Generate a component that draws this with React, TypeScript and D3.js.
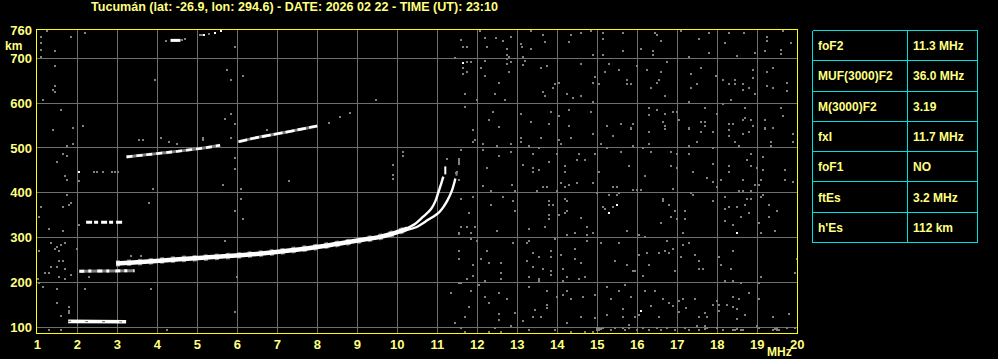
import React from "react";
import * as d3 from "d3";

const TITLE = "Tucumán (lat: -26.9, lon: 294.6) - DATE: 2026 02 22 - TIME (UT): 23:10";
const FREQ_TICKS = [1, 2, 3, 4, 5, 6, 7, 8, 9, 10, 11, 12, 13, 14, 15, 16, 17, 18, 19, 20];
const HEIGHT_GRID = [100, 200, 300, 400, 500, 600, 700];
const HEIGHT_LABELS = [100, 200, 300, 400, 500, 600, 700, 760];
const PARAM_NAMES = ["foF2", "MUF(3000)F2", "M(3000)F2", "fxI", "foF1", "ftEs", "h'Es"];
const PARAM_VALUES = ["11.3 MHz", "36.0 MHz", "3.19", "11.7 MHz", "NO", "3.2 MHz", "112 km"];

// Traces [frequency MHz, virtual height km]
const F_COMMON: [number, number][] = [[2.97, 242], [3.5, 245], [4.3, 250], [5.13, 255], [6.3, 262], [7.3, 271], [8.3, 283], [9.13, 295], [9.6, 302], [10.0, 312], [10.25, 320]];
const F_O_BRANCH: [number, number][] = [[10.2, 319], [10.45, 331], [10.64, 346], [10.84, 363], [10.96, 383], [11.03, 402], [11.09, 418], [11.15, 436]];
const F_O_TOP: [number, number][] = [[11.2, 441], [11.2, 461]];
const F_X_BRANCH: [number, number][] = [[10.2, 316], [10.47, 323], [10.76, 339], [11.05, 357], [11.18, 372], [11.26, 384], [11.37, 406], [11.43, 424], [11.45, 432]];
const F_X_TOP: [number, number][] = [[11.48, 438], [11.49, 448]];
const ES_1: [number, number][] = [[1.77, 113], [3.22, 112]];
const ES_2: [number, number][] = [[2.05, 225], [3.43, 226]];
const ES_3: [number, number][] = [[2.22, 334], [3.12, 334]];
const ES_4: [number, number][] = [[2.03, 447], [2.42, 447], [2.5, 447], [2.65, 447], [2.87, 447], [2.95, 447], [3.02, 447]];
const F2_HOP2_A: [number, number][] = [[3.23, 480], [3.65, 484], [4.15, 489], [4.65, 494], [5.32, 502], [5.57, 506]];
const F2_HOP2_B: [number, number][] = [[6.03, 514], [6.48, 523], [7.03, 532], [7.6, 542], [8.0, 549]];
const F2_HOP2_DOTS: [number, number][] = [[8.3, 556], [8.57, 569], [8.82, 578], [9.47, 607], [3.54, 517], [3.64, 517], [4.09, 522], [4.29, 513], [4.49, 509], [5.14, 522], [5.14, 517], [3.34, 259], [3.59, 259]];
const F_HOP3: [number, number][] = [[4.33, 740], [4.58, 740]];
const F_HOP3_DOTS: [number, number][] = [[4.22, 738], [4.62, 741], [4.7, 743], [5.07, 751], [5.12, 752], [5.29, 754]];
const WHITE_DOTS: [number, number][] = [[5.17, 752], [5.45, 757], [5.6, 761], [11.64, 689], [15.29, 355], [15.49, 373], [18.49, 311], [16.09, 136], [2.03, 447]];

const NOISE: [number, number][] = [
  // upper right
  [12.07, 760], [12.2, 746], [12.47, 746], [12.64, 739], [12.84, 747], [13.34, 761], [13.64, 752], [13.69, 736], [14.34, 752], [14.28, 737], [14.59, 757], [14.84, 761], [15.13, 757], [15.13, 743], [15.64, 757], [16.44, 757], [16.49, 751], [16.59, 739], [17.09, 761], [17.54, 743], [17.79, 757], [18.29, 757], [18.19, 734], [18.67, 757], [19.24, 748], [19.24, 739], [19.64, 761], [19.84, 734],
  [11.64, 725], [11.74, 725], [12.24, 725], [12.74, 721], [13.09, 731], [13.12, 725], [13.34, 721], [12.74, 707], [12.79, 703], [13.14, 703], [14.89, 707], [15.14, 707], [15.64, 716], [16.09, 721], [16.39, 716], [16.39, 707], [17.29, 702], [17.79, 712], [18.49, 706], [18.94, 712], [19.19, 716], [19.59, 719], [19.59, 710],
  [11.74, 691], [11.84, 691], [11.64, 679], [11.74, 670], [11.64, 664], [12.09, 678], [12.19, 693], [12.74, 699], [12.74, 687], [12.84, 691], [13.19, 693], [13.14, 685], [12.79, 669], [12.19, 660], [13.59, 678], [13.74, 682], [14.59, 687], [15.29, 687], [15.54, 673], [15.19, 669], [14.94, 658], [14.89, 646], [16.24, 673], [15.99, 682], [16.59, 669], [16.74, 691], [17.59, 678], [17.34, 664], [17.97, 661], [18.89, 673], [19.24, 670], [19.39, 678], [18.14, 651], [18.29, 642], [18.44, 651], [18.44, 642], [18.64, 642], [18.89, 655], [18.79, 633], [18.64, 629], [19.74, 646], [19.24, 638], [19.39, 633], [19.74, 626], [18.94, 620],
  [12.54, 646], [11.69, 620], [12.44, 620], [12.69, 606], [11.99, 606], [13.64, 624], [13.69, 615], [13.89, 633], [13.94, 642], [14.04, 646], [14.24, 620], [14.39, 611], [14.59, 615], [14.89, 602], [15.04, 642], [15.74, 651], [15.74, 642], [15.84, 642], [16.34, 633], [16.49, 646], [16.54, 651], [16.69, 615], [17.29, 602], [17.34, 633], [17.49, 642], [18.34, 606], [18.14, 597],
  [11.69, 591], [12.39, 580], [12.29, 562], [12.54, 547], [13.09, 575], [13.34, 557], [13.84, 580], [14.04, 571], [13.79, 553], [14.29, 584], [14.84, 580], [14.29, 548], [15.24, 548], [15.59, 553], [15.84, 544], [15.89, 553], [16.29, 588], [16.29, 574], [16.49, 584], [16.69, 575], [16.64, 557], [16.69, 548], [16.89, 580], [16.99, 580], [17.04, 562], [17.29, 544], [17.69, 588], [17.59, 557], [17.69, 557], [17.69, 548], [17.99, 575], [18.29, 553], [18.39, 553], [18.69, 588], [18.69, 566], [18.64, 562], [18.84, 562], [18.89, 548], [19.19, 562], [19.39, 544], [19.19, 544], [19.59, 588], [19.64, 571],
  // middle right
  [11.89, 540], [11.89, 513], [11.94, 517], [12.14, 508], [12.49, 504], [12.84, 508], [13.09, 522], [13.09, 513], [13.29, 504], [13.59, 522], [14.04, 517], [14.09, 508], [14.34, 522], [14.89, 531], [15.09, 508], [15.39, 526], [15.84, 542], [15.89, 504], [16.29, 535], [16.29, 508], [16.69, 542], [17.29, 542], [17.59, 535], [17.29, 504], [17.49, 513], [17.89, 535], [18.29, 540], [18.29, 526], [18.44, 513], [18.64, 531], [18.79, 535], [18.54, 504], [19.19, 542], [19.34, 513], [19.34, 504], [19.89, 513], [19.89, 531],
  [11.59, 495], [12.14, 495], [12.54, 482], [12.84, 490], [11.54, 476], [11.54, 468], [13.39, 486], [13.54, 499], [13.99, 486], [14.54, 486], [14.49, 473], [14.69, 473], [14.94, 486], [15.24, 499], [15.59, 490], [16.14, 499], [16.34, 490], [16.84, 490], [16.99, 486], [17.29, 486], [17.89, 499], [18.84, 486], [18.74, 473], [19.14, 480],
  [11.49, 446], [11.54, 428], [12.24, 455], [13.14, 462], [13.39, 455], [13.39, 446], [13.54, 450], [13.79, 468], [14.19, 459], [14.19, 446], [15.04, 446], [15.79, 459], [16.19, 437], [16.84, 459], [16.99, 455], [17.39, 446], [17.74, 432], [17.89, 464], [17.89, 423], [18.09, 428], [18.29, 459], [18.29, 446], [18.64, 428], [18.84, 459], [18.99, 455], [19.14, 450], [19.09, 428], [19.69, 450], [19.69, 428], [19.89, 423],
  [12.14, 416], [12.34, 404], [12.87, 418], [12.94, 403], [13.49, 404], [13.64, 413], [13.74, 413], [13.99, 403], [14.09, 422], [14.19, 413], [14.29, 418], [14.49, 422], [14.89, 422], [14.99, 400], [15.39, 413], [15.49, 413], [15.54, 400], [15.89, 406], [15.99, 406], [16.09, 406], [16.89, 409], [17.34, 400], [17.39, 395], [17.99, 413], [18.54, 404], [18.64, 404], [18.84, 404], [18.94, 418], [19.04, 418],
  [11.59, 386], [11.89, 391], [12.34, 373], [12.64, 391], [12.89, 382], [12.94, 359], [13.79, 382], [13.79, 373], [13.89, 373], [14.19, 386], [14.24, 382], [14.24, 359], [14.19, 355], [13.79, 351], [13.79, 342], [14.04, 351], [14.59, 343], [15.14, 368], [15.19, 364], [15.39, 368], [15.29, 395], [15.49, 395], [16.64, 386], [16.64, 382], [16.79, 373], [16.94, 359], [16.84, 346], [16.99, 342], [16.59, 333], [17.19, 359], [17.19, 342], [17.89, 382], [18.19, 391], [18.19, 364], [18.29, 368], [18.49, 368], [18.69, 373], [18.74, 386], [18.84, 386], [18.79, 355], [19.09, 391], [19.14, 395], [19.29, 373], [19.49, 359], [19.29, 346], [19.04, 333], [18.19, 337], [18.39, 328], [18.59, 346],
  [11.79, 355], [11.59, 324], [11.74, 324], [11.94, 324], [13.29, 319], [13.69, 324], [14.74, 324],
  // lower right
  [11.54, 311], [11.84, 311], [12.49, 315], [13.29, 320], [14.24, 306], [14.44, 311], [14.74, 306], [14.89, 311], [15.74, 314], [16.04, 306], [16.19, 302], [17.14, 311], [19.09, 311], [19.44, 314],
  [11.84, 297], [11.99, 293], [12.89, 288], [13.24, 288], [13.29, 293], [13.94, 297], [14.74, 293], [15.09, 288], [15.54, 288], [16.74, 293], [17.14, 284], [17.29, 288], [11.54, 270], [12.24, 270], [11.54, 253], [12.09, 253], [11.89, 239], [12.29, 244], [12.59, 244], [12.59, 221], [12.59, 208], [11.89, 214], [11.74, 208], [13.24, 248], [13.39, 266], [13.54, 257], [13.39, 235], [13.64, 230], [13.84, 270], [13.84, 257], [13.84, 226], [13.84, 217], [13.54, 208], [13.29, 212], [14.09, 261], [14.44, 275], [14.44, 253], [14.59, 244], [14.14, 229], [14.24, 212], [14.54, 208], [14.69, 212], [15.44, 248], [15.74, 239], [15.89, 226], [15.94, 226], [16.29, 239], [16.14, 214], [16.04, 261], [16.24, 266], [16.54, 266], [16.69, 270], [16.79, 266], [16.89, 275], [17.09, 257], [16.94, 226], [17.44, 261], [17.54, 248], [17.54, 230], [17.64, 230], [18.04, 257], [18.09, 239], [18.34, 230], [18.39, 270], [19.09, 212], [19.94, 221], [19.99, 253],
  [11.54, 199], [11.59, 199], [12.04, 195], [12.19, 203], [11.84, 181], [12.19, 168], [12.29, 154], [12.54, 177], [12.74, 163], [11.79, 145], [11.69, 123], [12.54, 129], [12.54, 117], [12.94, 132], [13.14, 114], [13.29, 190], [13.44, 138], [13.39, 123], [13.59, 123], [13.54, 203], [13.74, 181], [13.74, 150], [13.74, 142], [14.14, 203], [14.24, 181], [14.14, 172], [13.99, 168], [14.34, 163], [14.64, 168], [14.94, 172], [14.94, 120], [14.59, 123], [14.24, 110], [15.24, 190], [15.54, 181], [15.69, 195], [15.34, 163], [15.84, 168], [15.24, 128], [15.64, 141], [15.64, 123], [15.94, 123], [15.79, 105], [16.04, 128], [16.19, 181], [16.44, 181], [16.34, 147], [16.54, 123], [16.64, 163], [16.79, 154], [16.89, 147], [17.04, 159], [17.04, 135], [17.14, 163], [17.21, 142], [17.44, 163], [17.54, 123], [17.74, 123], [17.69, 132], [17.89, 150], [17.99, 159], [18.04, 150], [18.04, 136], [18.19, 202], [18.39, 202], [18.24, 150], [18.39, 168], [18.39, 145], [18.49, 141], [18.49, 119], [18.54, 163], [18.59, 199], [18.69, 128], [18.79, 177], [19.04, 199], [19.04, 163], [19.39, 123], [19.79, 129],
  [11.59, 98], [11.69, 90], [12.29, 90], [12.44, 98], [12.59, 90], [12.84, 102], [13.29, 93], [13.94, 93], [14.34, 90], [14.69, 90], [14.89, 90], [14.99, 98], [15.04, 93], [15.14, 98], [15.34, 93], [15.44, 98], [15.64, 98], [15.69, 93], [15.79, 98], [15.99, 93], [16.14, 98], [16.29, 93], [16.49, 98], [16.59, 93], [16.74, 98], [16.94, 93], [17.19, 98], [17.29, 93], [17.49, 102], [17.54, 93], [17.69, 102], [17.74, 98], [17.99, 98], [18.14, 93], [18.59, 93], [18.64, 93], [18.99, 102], [19.04, 98], [19.39, 93], [19.49, 93], [19.54, 93], [19.74, 98], [19.94, 98],
  [18.39, 93], [18.44, 93], [18.49, 96], [17.69, 95], [15.04, 98], [19.44, 96], [19.49, 99], [15.09, 95], [14.99, 93],
  // left
  [1.49, 468], [1.69, 437], [1.74, 428], [1.74, 395], [1.84, 378], [1.79, 373], [1.09, 369], [1.64, 369], [1.04, 346], [1.29, 319], [1.64, 315], [2.04, 427], [2.03, 328], [3.89, 409], [3.79, 378], [5.94, 453], [5.94, 360], [6.09, 409], [6.09, 387], [6.14, 342], [5.64, 418], [7.29, 427], [9.89, 461], [9.89, 440], [9.89, 431], [5.69, 293],
  [1.34, 288], [1.49, 279], [1.69, 288], [1.44, 275], [1.54, 270], [1.59, 284], [1.04, 270], [1.99, 275], [1.54, 248], [1.64, 248], [1.34, 235], [1.49, 235], [1.69, 230], [1.19, 221], [1.29, 221], [1.54, 212], [1.84, 217], [1.69, 208], [2.29, 212], [1.02, 208], [1.04, 199], [1.14, 190], [1.49, 186], [2.19, 186], [3.84, 186], [5.99, 212], [1.49, 153], [1.79, 145], [1.79, 137], [1.79, 131], [1.59, 126], [11.34, 177], [11.44, 110], [5.94, 134], [1.29, 93], [1.59, 93], [4.24, 93],
  [1.59, 584], [1.39, 540], [1.89, 544], [2.14, 549], [1.74, 504], [1.89, 508], [1.64, 486], [1.74, 482],
  [1.09, 748], [1.09, 735], [1.09, 718], [1.09, 703], [1.23, 761], [1.44, 717], [1.84, 748], [2.19, 757], [1.44, 683], [1.44, 638], [1.39, 629], [1.44, 625], [1.14, 607], [3.94, 651], [5.74, 674], [5.84, 651], [6.14, 660], [5.94, 726], [5.69, 564], [5.84, 575], [5.94, 553], [5.84, 522], [6.74, 540], [5.94, 477],
  [10.13, 491], [10.13, 482], [11.23, 476], [11.53, 471], [11.53, 465], [11.48, 443], [11.53, 428], [11.53, 309], [11.53, 253], [11.6, 740], [11.45, 700]
];

const W = 998;
const H = 359;
const x = d3.scaleLinear().domain([1, 20]).range([37.3, 797.3]);
const y = d3.scaleLinear().domain([100, 700]).range([327.2, 58.3]);
const FRAME_H = [86, 765];

const YELLOW = "#ffff00";
const TEXT_Y = "#ffff80";
const GRID = "#6e6e6e";
const NOISE_C = "#808080";
const CYAN = "#00e0e0";
const FONT = "'Liberation Sans', Arial, sans-serif";

const crisp = (v: number) => Math.floor(v) + 0.5;

export default function App() {
  const line = d3.line<[number, number]>().x((d) => x(d[0])).y((d) => y(d[1])).curve(d3.curveCatmullRom);
  const fl = crisp(x(1) - 1);
  const fr = crisp(x(20));
  const ft = crisp(y(FRAME_H[1]));
  const fb = crisp(y(FRAME_H[0]));

  const tableLeft = 812.5;
  const tableMid = 907.5;
  const tableRight = 977.5;
  const tableTop = 30.5;
  const rowH = 30.28;

  const dot = (d: [number, number], i: number, color: string) => (
    <rect key={i} x={Math.round(x(d[0])) - 1} y={Math.round(y(d[1])) - 1} width={2} height={2} fill={color} />
  );

  return (
    <div style={{ position: "fixed", left: 0, top: 0, width: W, height: H, background: "#000" }}>
      <svg width={W} height={H} style={{ display: "block", background: "#000" }} fontFamily={FONT}>
        <rect x={0} y={0} width={W} height={H} fill="#000" />
        <text x={91} y={11} fill={TEXT_Y} fontSize={12} fontWeight="bold" textLength={407} lengthAdjust="spacingAndGlyphs">
          {TITLE}
        </text>

        <g shapeRendering="crispEdges" stroke={GRID} strokeWidth={1}>
          {FREQ_TICKS.filter((f) => f > 1 && f < 20).map((f) => (
            <line key={"v" + f} x1={crisp(x(f))} x2={crisp(x(f))} y1={ft} y2={fb} />
          ))}
          {HEIGHT_GRID.map((h) => (
            <line key={"h" + h} x1={fl} x2={fr} y1={crisp(y(h))} y2={crisp(y(h))} />
          ))}
        </g>

        <g shapeRendering="crispEdges">
          {NOISE.map((d, i) => dot(d, i, NOISE_C))}
          {F2_HOP2_DOTS.map((d, i) => dot(d, i, NOISE_C))}
          {F_HOP3_DOTS.map((d, i) => dot(d, i, NOISE_C))}
          {ES_4.map((d, i) => dot(d, i, NOISE_C))}
        </g>

        <g fill="none" strokeLinecap="butt">
          <path d={line(F_COMMON) || ""} stroke={NOISE_C} strokeWidth={6.5} strokeDasharray="4 7" />
          <path d={line(F_COMMON) || ""} stroke="#fff" strokeWidth={4.5} />
          <path d={line(F_O_BRANCH) || ""} stroke="#fff" strokeWidth={2.4} />
          <path d={line(F_X_BRANCH) || ""} stroke="#fff" strokeWidth={2.4} />
          <path d={line(F_O_TOP) || ""} stroke="#fff" strokeWidth={2} strokeDasharray="8 3" />
          <path d={line(F_X_TOP) || ""} stroke={NOISE_C} strokeWidth={2} />
          <path d={line(ES_1) || ""} stroke="#fff" strokeWidth={3.6} />
          <path d={line(ES_1) || ""} stroke={NOISE_C} strokeWidth={1.2} strokeDasharray="3 14" />
          <path d={line(ES_2) || ""} stroke={NOISE_C} strokeWidth={3} />
          <path d={line(ES_2) || ""} stroke="#fff" strokeWidth={3} strokeDasharray="5 4 3 6" />
          <path d={line(ES_3) || ""} stroke="#fff" strokeWidth={3} strokeDasharray="6 2 4 3" />
          <path d={line(F2_HOP2_A) || ""} stroke={NOISE_C} strokeWidth={3} />
          <path d={line(F2_HOP2_A) || ""} stroke="#fff" strokeWidth={2.6} strokeDasharray="6 4" />
          <path d={line(F2_HOP2_B) || ""} stroke={NOISE_C} strokeWidth={3} />
          <path d={line(F2_HOP2_B) || ""} stroke="#fff" strokeWidth={2.6} strokeDasharray="9 3" />
          <path d={line(F_HOP3) || ""} stroke="#fff" strokeWidth={3} />
        </g>
        <g shapeRendering="crispEdges">{WHITE_DOTS.map((d, i) => dot(d, i, "#fff"))}</g>

        <rect x={fl} y={ft} width={fr - fl} height={fb - ft} fill="none" stroke={YELLOW} strokeWidth={1} shapeRendering="crispEdges" />

        <g fill={TEXT_Y} fontSize={13} fontWeight="bold">
          {HEIGHT_LABELS.map((h) => (
            <text key={"yl" + h} x={32} y={y(h) + (h === 760 ? 3.4 : 4.6)} textAnchor="end">
              {h}
            </text>
          ))}
          <text x={5} y={49.5} fontSize={12}>km</text>
          {FREQ_TICKS.map((f) => (
            <text key={"xl" + f} x={x(f)} y={348.5} textAnchor="middle">
              {f}
            </text>
          ))}
          <text x={767} y={355.5} fontSize={12}>MHz</text>
        </g>

        <g shapeRendering="crispEdges" stroke={CYAN} strokeWidth={1}>
          {d3.range(PARAM_NAMES.length + 1).map((i) => (
            <line key={"tr" + i} x1={tableLeft} x2={tableRight} y1={crisp(tableTop + i * rowH)} y2={crisp(tableTop + i * rowH)} />
          ))}
          <line x1={tableLeft} x2={tableLeft} y1={tableTop} y2={crisp(tableTop + PARAM_NAMES.length * rowH)} />
          <line x1={tableMid} x2={tableMid} y1={tableTop} y2={crisp(tableTop + PARAM_NAMES.length * rowH)} />
          <line x1={tableRight} x2={tableRight} y1={tableTop} y2={crisp(tableTop + PARAM_NAMES.length * rowH)} />
        </g>
        <g fill={TEXT_Y} fontSize={12} fontWeight="bold">
          {PARAM_NAMES.map((n, i) => (
            <text key={"pn" + i} x={818} y={tableTop + (i + 0.5) * rowH + 4.5}>
              {n}
            </text>
          ))}
          {PARAM_VALUES.map((v, i) => (
            <text key={"pv" + i} x={913} y={tableTop + (i + 0.5) * rowH + 4.5}>
              {v}
            </text>
          ))}
        </g>
      </svg>
    </div>
  );
}
